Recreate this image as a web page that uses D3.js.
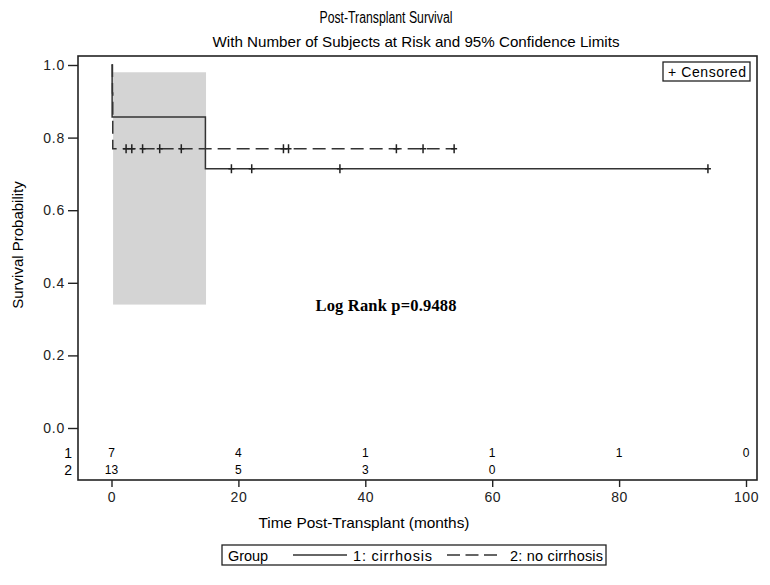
<!DOCTYPE html>
<html>
<head>
<meta charset="utf-8">
<script src="https://cdn.jsdelivr.net/npm/d3@7/dist/d3.min.js"></script>
<style>
  body { margin: 0; background: #fff; }
  svg { display: block; font-family: "Liberation Sans", Arial, sans-serif; }
</style>
</head>
<body>
<div id="chart"></div>
<script>
"use strict";

// group 1: cirrhosis
let g1Times = [0, 0.1, 14.8];
let g1Surv = [1.0, 0.857, 0.714];
let g1End = 94.0;
let g1Censored = [18.9, 22.1, 36.0, 94.0];

// group 2: no cirrhosis
let g2Times = [0, 0.15, 0.2];
let g2Surv = [1.0, 0.923, 0.769];
let g2End = 54.0;
let g2Censored = [2.3, 3.2, 4.9, 7.6, 11.0, 27.1, 27.9, 44.9, 49.1, 54.0];

// confidence band (shaded)
let bandTimes = [0.25, 14.9];
let bandLower = 0.34;
let bandUpper = 0.98;

// number at risk
let riskTimes = [0, 20, 40, 60, 80, 100];
let risk1 = [7, 4, 1, 1, 1, 0];
let risk2 = [13, 5, 3, 0];

let xTicks = [0, 20, 40, 60, 80, 100];
let yTicks = [0, 0.2, 0.4, 0.6, 0.8, 1.0];

let width = 770, height = 585;
let frame = { left: 78, top: 56, right: 757, bottom: 480 };
let lineColor = "#333";

let svg = d3.select("#chart").append("svg")
  .attr("width", width)
  .attr("height", height);

let x = d3.scaleLinear().domain([0, 100]).range([111.5, 746]);
let y = d3.scaleLinear().domain([0, 1]).range([428, 65]);

// titles (narrow font in the original, squeezed to its width)
svg.append("text")
  .attr("x", 386).attr("y", 23)
  .attr("text-anchor", "middle")
  .attr("textLength", 133).attr("lengthAdjust", "spacingAndGlyphs")
  .style("font-size", "16px")
  .text("Post-Transplant Survival");

svg.append("text")
  .attr("x", 416).attr("y", 47)
  .attr("text-anchor", "middle")
  .attr("textLength", 407).attr("lengthAdjust", "spacingAndGlyphs")
  .style("font-size", "15px")
  .text("With Number of Subjects at Risk and 95% Confidence Limits");

// confidence band
svg.append("rect")
  .attr("x", x(bandTimes[0]))
  .attr("y", y(bandUpper))
  .attr("width", x(bandTimes[1]) - x(bandTimes[0]))
  .attr("height", y(bandLower) - y(bandUpper))
  .attr("fill", "#d4d4d4");

function stepPoints(times, surv, end) {
  let pts = [];
  times.forEach((t, i) => {
    if (i > 0) pts.push([t, surv[i - 1]]);
    pts.push([t, surv[i]]);
  });
  pts.push([end, surv[surv.length - 1]]);
  return pts;
}

function survAt(times, surv, t) {
  let v = surv[0];
  times.forEach((tt, i) => { if (tt <= t) v = surv[i]; });
  return v;
}

let line = d3.line().x(d => x(d[0])).y(d => y(d[1]));

function drawGroup(times, surv, end, censored, dash) {
  let g = svg.append("g");
  g.append("path")
    .attr("d", line(stepPoints(times, surv, end)))
    .attr("fill", "none")
    .attr("stroke", lineColor)
    .attr("stroke-width", 1.5)
    .attr("stroke-dasharray", dash);

  g.selectAll(".cens")
    .data(censored)
    .enter().append("path")
    .attr("class", "cens")
    .attr("d", d => {
      let cx = x(d), cy = y(survAt(times, surv, d));
      return "M" + cx + "," + (cy - 4.5) + "V" + (cy + 4.5) +
        "M" + (cx - 3) + "," + cy + "H" + (cx + 3);
    })
    .attr("stroke", "#222")
    .attr("stroke-width", 1.5);
}

drawGroup(g1Times, g1Surv, g1End, g1Censored, null);
drawGroup(g2Times, g2Surv, g2End, g2Censored, "13,6");

// log rank text
svg.append("text")
  .attr("x", 386).attr("y", 311)
  .attr("text-anchor", "middle")
  .attr("textLength", 141).attr("lengthAdjust", "spacing")
  .style("font-family", "'Liberation Serif', 'Times New Roman', serif")
  .style("font-weight", "bold")
  .style("font-size", "16.5px")
  .text("Log Rank p=0.9488");

// axes
let yAxis = svg.append("g")
  .attr("transform", "translate(" + frame.left + ",0)")
  .call(d3.axisLeft(y).tickValues(yTicks).tickFormat(d3.format(".1f")).tickSize(10).tickSizeOuter(0));

let xAxis = svg.append("g")
  .attr("transform", "translate(0," + frame.bottom + ")")
  .call(d3.axisBottom(x).tickValues(xTicks).tickSize(7).tickSizeOuter(0));

[yAxis, xAxis].forEach(a => {
  a.select(".domain").remove();
  a.selectAll("line").attr("stroke", "#222").attr("stroke-width", 1.4);
  a.selectAll("text").style("font-size", "14px").attr("fill", "#222")
    .style("font-family", "'Liberation Sans', Arial, sans-serif");
});
yAxis.selectAll("text").attr("x", -13).attr("letter-spacing", "0.8px");
xAxis.selectAll("text").attr("y", 12).attr("letter-spacing", "0.5px");

// frame
svg.append("rect")
  .attr("x", frame.left).attr("y", frame.top)
  .attr("width", frame.right - frame.left)
  .attr("height", frame.bottom - frame.top)
  .attr("fill", "none")
  .attr("stroke", "#222")
  .attr("stroke-width", 1.6);

// axis titles
svg.append("text")
  .attr("transform", "translate(23,245) rotate(-90)")
  .attr("text-anchor", "middle")
  .style("font-size", "15px")
  .text("Survival Probability");

svg.append("text")
  .attr("x", 364).attr("y", 528)
  .attr("text-anchor", "middle")
  .attr("textLength", 211).attr("lengthAdjust", "spacingAndGlyphs")
  .style("font-size", "15px")
  .text("Time Post-Transplant (months)");

// risk table
let riskRows = [{ label: "1", vals: risk1, y: 457 }, { label: "2", vals: risk2, y: 474 }];
riskRows.forEach(r => {
  svg.append("text")
    .attr("x", 72).attr("y", r.y + 1)
    .attr("text-anchor", "end")
    .style("font-size", "14px")
    .text(r.label);
  svg.selectAll(null)
    .data(r.vals)
    .enter().append("text")
    .attr("x", (d, i) => x(riskTimes[i]))
    .attr("y", r.y)
    .attr("text-anchor", "middle")
    .style("font-size", "12px")
    .text(d => d);
});

// censored legend box
let cens = svg.append("g");
cens.append("rect")
  .attr("x", 663).attr("y", 62).attr("width", 87).attr("height", 19)
  .attr("fill", "#fff").attr("stroke", "#222").attr("stroke-width", 1.3);
cens.append("text")
  .attr("x", 668).attr("y", 77)
  .attr("textLength", 78).attr("lengthAdjust", "spacing")
  .style("font-size", "14px")
  .text("+ Censored");

// group legend
let leg = svg.append("g");
leg.append("rect")
  .attr("x", 222).attr("y", 545).attr("width", 384).attr("height", 20)
  .attr("fill", "#fff").attr("stroke", "#222").attr("stroke-width", 1.3);
leg.append("text").attr("x", 228).attr("y", 561)
  .attr("textLength", 40).attr("lengthAdjust", "spacing")
  .style("font-size", "14.5px").text("Group");
leg.append("line")
  .attr("x1", 293).attr("x2", 347).attr("y1", 555).attr("y2", 555)
  .attr("stroke", lineColor).attr("stroke-width", 1.4);
leg.append("text").attr("x", 353).attr("y", 561)
  .attr("textLength", 79).attr("lengthAdjust", "spacing")
  .style("font-size", "14.5px").text("1: cirrhosis");
leg.append("line")
  .attr("x1", 447).attr("x2", 497).attr("y1", 555).attr("y2", 555)
  .attr("stroke", lineColor).attr("stroke-width", 1.4)
  .attr("stroke-dasharray", "13,5.5");
leg.append("text").attr("x", 510).attr("y", 561)
  .attr("textLength", 93).attr("lengthAdjust", "spacing")
  .style("font-size", "14.5px").text("2: no cirrhosis");
</script>
</body>
</html>
